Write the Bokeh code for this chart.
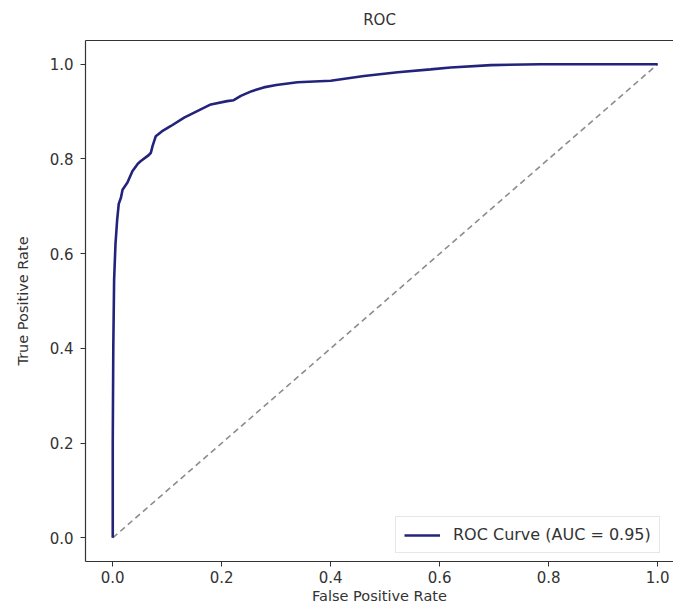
from bokeh.plotting import figure
from bokeh.models import Range1d, FixedTicker, LinearAxis, Legend, LegendItem
from bokeh.embed import file_html
from bokeh.resources import INLINE

# ROC curve values
fpr = [0.0, 0.0, 0.001, 0.0025, 0.005, 0.008, 0.011, 0.015, 0.018, 0.027, 0.036,
       0.046, 0.051, 0.066, 0.070, 0.073, 0.079, 0.090, 0.106, 0.131, 0.155,
       0.180, 0.210, 0.222, 0.235, 0.255, 0.277, 0.30, 0.339, 0.40, 0.461,
       0.523, 0.583, 0.62, 0.694, 0.785, 0.90, 1.0]
tpr = [0.0, 0.20, 0.40, 0.544, 0.62, 0.67, 0.705, 0.718, 0.735, 0.75, 0.774,
       0.79, 0.795, 0.808, 0.813, 0.827, 0.848, 0.858, 0.869, 0.887, 0.901,
       0.915, 0.922, 0.924, 0.933, 0.943, 0.951, 0.956, 0.962, 0.965, 0.975,
       0.983, 0.989, 0.993, 0.998, 1.0, 1.0, 1.0]
diag_x = [0.0, 1.0]
diag_y = [0.0, 1.0]
ticks = [0.0, 0.2, 0.4, 0.6, 0.8, 1.0]
tick_labels = {0.0: "0.0", 0.2: "0.2", 0.4: "0.4", 0.6: "0.6", 0.8: "0.8", 1.0: "1.0"}
title_text = "ROC"
legend_label = "ROC Curve (AUC = 0.95)"

FONT = "DejaVu Sans"
TXT = "#333333"

p = figure(frame_width=588, frame_height=521, output_backend="svg",
           toolbar_location=None, x_range=Range1d(-0.05, 1.029),
           y_range=Range1d(-0.05, 1.05), min_border_left=85, min_border_top=40,
           min_border_bottom=45, min_border_right=0, title=title_text)

p.title.align = "center"
p.title.vertical_align = "top"
p.title.text_font = FONT
p.title.text_font_size = "15px"
p.title.text_font_style = "normal"
p.title.text_color = TXT
p.title.standoff = 20

p.outline_line_color = None
p.xgrid.visible = False
p.ygrid.visible = False
p.background_fill_color = "white"
p.border_fill_color = "white"

for ax in (p.xaxis[0], p.yaxis[0]):
    ax.ticker = FixedTicker(ticks=ticks)
    ax.major_label_overrides = tick_labels
    ax.minor_tick_line_color = None
    ax.major_tick_out = 5
    ax.major_tick_in = 0
    ax.major_tick_line_color = "#333333"
    ax.axis_line_color = "#333333"
    ax.axis_line_width = 1.2
    ax.major_label_text_font = FONT
    ax.major_label_text_font_size = "15px"
    ax.major_label_text_color = TXT
    ax.axis_label_text_font = FONT
    ax.axis_label_text_font_size = "14.5px"
    ax.axis_label_text_font_style = "normal"
    ax.axis_label_text_color = TXT

p.xaxis.axis_label = "False Positive Rate"
p.yaxis.axis_label = "True Positive Rate"
p.xaxis.major_label_standoff = 4
p.xaxis.axis_label_standoff = 2
p.yaxis.major_label_standoff = 7
p.yaxis.axis_label_standoff = 16

top_axis = LinearAxis(ticker=FixedTicker(ticks=[]), major_label_text_font_size="0px",
                      axis_line_color="#333333", axis_line_width=1.2,
                      major_tick_out=0, major_tick_in=0, major_label_standoff=0,
                      major_tick_line_color=None, minor_tick_line_color=None)
p.add_layout(top_axis, "above")

p.line(diag_x, diag_y, line_color="#8c8c8c", line_width=1.6, line_dash="6 4")
roc = p.line(fpr, tpr, line_color="#23237c", line_width=2.6)

legend = Legend(items=[LegendItem(label=legend_label, renderers=[roc])],
                location=(310, 8))
legend.label_text_font = FONT
legend.label_text_font_size = "16px"
legend.label_text_color = TXT
legend.glyph_width = 36
legend.glyph_height = 14
legend.padding = 8
legend.margin = 0
legend.spacing = 0
legend.label_standoff = 13
legend.border_line_color = "#d0d0d0"
legend.border_line_width = 1
legend.background_fill_alpha = 0.85
p.add_layout(legend, "center")

open("out.html", "w").write(file_html(p, INLINE))
